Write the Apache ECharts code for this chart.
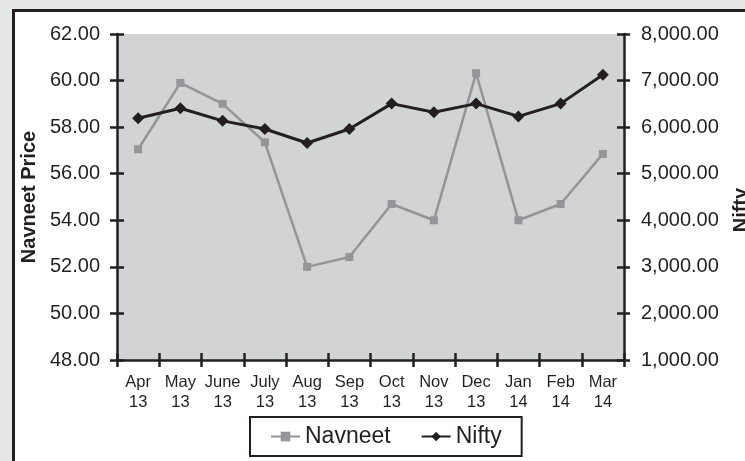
<!DOCTYPE html>
<html>
<head>
<meta charset="utf-8">
<script src="https://cdn.jsdelivr.net/npm/echarts@6/dist/echarts.min.js"></script>
<style>
html,body{margin:0;padding:0;background:#e6e7e8;}
#c{width:745px;height:461px;}
</style>
</head>
<body>
<div id="c"></div>
<script>
const months = ['Apr','May','June','July','Aug','Sep','Oct','Nov','Dec','Jan','Feb','Mar'];
const years  = ['13','13','13','13','13','13','13','13','13','14','14','14'];
const navneet = [57.05, 59.9, 59.0, 57.35, 52.0, 52.42, 54.7, 54.0, 60.32, 54.0, 54.7, 56.85];
const nifty   = [6190, 6405, 6135, 5960, 5660, 5960, 6505, 6320, 6505, 6230, 6505, 7125];
const leftTickLabels  = ['48.00','50.00','52.00','54.00','56.00','58.00','60.00','62.00'];
const rightTickLabels = ['1,000.00','2,000.00','3,000.00','4,000.00','5,000.00','6,000.00','7,000.00','8,000.00'];

const categories = months.map((m, i) => m + '\n' + years[i]);
const leftMin = parseFloat(leftTickLabels[0]);
const leftMax = parseFloat(leftTickLabels[leftTickLabels.length - 1]);
const leftInt = parseFloat(leftTickLabels[1]) - leftMin;
const rightMin = parseFloat(rightTickLabels[0].replace(/,/g, ''));
const rightMax = parseFloat(rightTickLabels[rightTickLabels.length - 1].replace(/,/g, ''));
const rightInt = parseFloat(rightTickLabels[1].replace(/,/g, '')) - rightMin;

const ink = '#231f20';
const font = '"Liberation Sans", Arial, Helvetica, sans-serif';

const chart = echarts.init(document.getElementById('c'));
chart.setOption({
  backgroundColor: '#e6e7e8',
  animation: false,
  textStyle: { fontFamily: font, color: ink },
  graphic: [{
    type: 'rect', z: -100, silent: true,
    shape: { x: 13.5, y: 10.5, width: 800, height: 500 },
    style: { fill: '#ffffff', stroke: ink, lineWidth: 3 }
  }],
  grid: {
    left: 117, right: 121, top: 34, bottom: 101,
    containLabel: false, outerBoundsMode: 'none',
    show: true, backgroundColor: '#d1d3d4', borderWidth: 0
  },
  legend: {
    left: 250, top: 417,
    padding: [8, 20, 8, 20],
    borderColor: ink, borderWidth: 2, backgroundColor: '#ffffff',
    itemGap: 30, itemWidth: 29, itemHeight: 12,
    textStyle: { fontSize: 23, color: ink, fontFamily: font },
    data: ['Navneet', 'Nifty']
  },
  xAxis: [{
    type: 'category', data: categories, position: 'bottom', boundaryGap: true,
    axisLine: { show: true, lineStyle: { color: ink, width: 2.5 } },
    axisTick: { show: true, inside: false, length: 7, lineStyle: { color: ink, width: 2.5 } },
    axisLabel: { fontSize: 16.5, lineHeight: 20, margin: 12, color: ink, fontFamily: font, interval: 0 },
    splitLine: { show: false }
  }, {
    type: 'category', data: categories, position: 'bottom', boundaryGap: true, offset: 0,
    axisLine: { show: false },
    axisTick: { show: true, inside: true, length: 7, lineStyle: { color: ink, width: 2.5 } },
    axisLabel: { show: false },
    splitLine: { show: false }
  }],
  yAxis: [{
    type: 'value', position: 'left', min: leftMin, max: leftMax, interval: leftInt,
    name: 'Navneet Price', nameLocation: 'middle', nameRotate: 90, nameGap: 71,
    nameTextStyle: { fontSize: 20, fontWeight: 'bold', color: ink, fontFamily: font },
    axisLine: { show: true, lineStyle: { color: ink, width: 2.5 } },
    axisTick: { show: true, inside: false, length: 7, lineStyle: { color: ink, width: 2.5 } },
    axisLabel: { fontSize: 20, margin: 17, color: ink, fontFamily: font,
      formatter: (v, i) => leftTickLabels[i] },
    splitLine: { show: false }
  }, {
    type: 'value', position: 'right', min: rightMin, max: rightMax, interval: rightInt,
    name: 'Nifty', nameLocation: 'middle', nameRotate: 90, nameGap: 107,
    nameTextStyle: { fontSize: 20, fontWeight: 'bold', color: ink, fontFamily: font, padding: [0, 26, 0, 0] },
    axisLine: { show: true, lineStyle: { color: ink, width: 2.5 } },
    axisTick: { show: true, inside: false, length: 6, lineStyle: { color: ink, width: 2.5 } },
    axisLabel: { fontSize: 20, margin: 17, color: ink, fontFamily: font,
      formatter: (v, i) => rightTickLabels[i] },
    splitLine: { show: false }
  }, {
    type: 'value', position: 'left', offset: 0, min: leftMin, max: leftMax, interval: leftInt,
    axisLine: { show: false },
    axisTick: { show: true, inside: true, length: 7, lineStyle: { color: ink, width: 2.5 } },
    axisLabel: { show: false }, splitLine: { show: false }
  }, {
    type: 'value', position: 'right', offset: 0, min: rightMin, max: rightMax, interval: rightInt,
    axisLine: { show: false },
    axisTick: { show: true, inside: true, length: 7, lineStyle: { color: ink, width: 2.5 } },
    axisLabel: { show: false }, splitLine: { show: false }
  }],
  series: [{
    name: 'Navneet', type: 'line', data: navneet, xAxisIndex: 0, yAxisIndex: 0,
    symbol: 'rect', symbolSize: 8,
    lineStyle: { color: '#939598', width: 2.5 },
    itemStyle: { color: '#939598' }
  }, {
    name: 'Nifty', type: 'line', data: nifty, xAxisIndex: 0, yAxisIndex: 1,
    symbol: 'diamond', symbolSize: 12,
    lineStyle: { color: ink, width: 3 },
    itemStyle: { color: ink }
  }]
});
</script>
</body>
</html>
